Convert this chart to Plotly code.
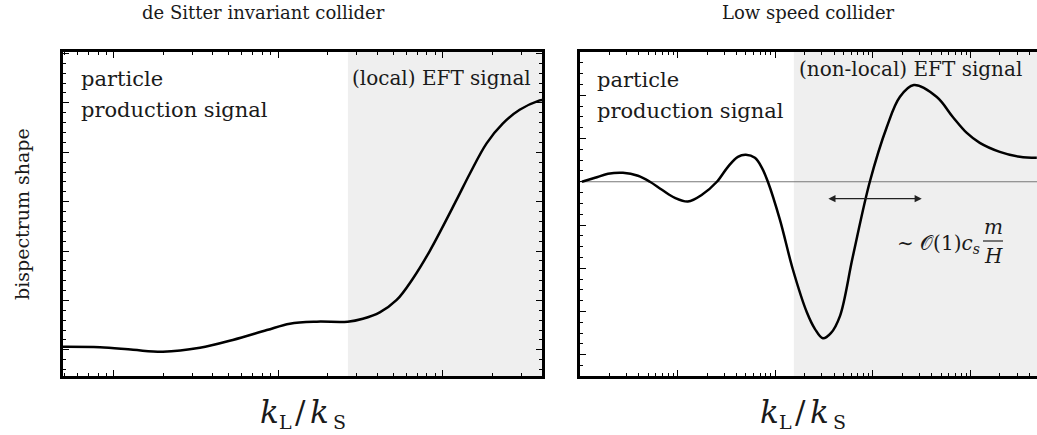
import plotly.graph_objects as go

# ---------------- data ----------------
panel_titles = ["de Sitter invariant collider", "Low speed collider"]
y_label = "bispectrum shape"
# x-axis label pieces: k_L / k_S
x_label_main = ["<i>k</i>", "/", "<i>k</i>"]
x_label_subs = ["L", "S"]

# left panel: k_L/k_S (log axis) and bispectrum shape
left_k = [0.00490, 0.00822, 0.01306, 0.01986, 0.03334, 0.05284, 0.08511, 0.1175,
          0.1714, 0.2642, 0.3266, 0.4140, 0.5248, 0.6577, 0.8337, 1.216, 1.459,
          1.849, 2.317, 2.938, 3.890, 4.02]
left_shape = [0.06, 0.05, 0.00, -0.04, 0.04, 0.20, 0.40, 0.53,
              0.57, 0.57, 0.63, 0.76, 1.01, 1.44, 2.00, 3.04, 3.56,
              4.18, 4.58, 4.86, 5.05, 5.06]
left_shade_from = 0.265

# right panel
right_k = [0.001047, 0.001426, 0.001936, 0.002754, 0.003926, 0.005200, 0.006902,
           0.009376, 0.012735, 0.017742, 0.025235, 0.032734, 0.041400,
           0.050003, 0.061802, 0.072946, 0.083946, 0.11143, 0.15136, 0.21038,
           0.25410, 0.30690, 0.37068, 0.45814, 0.62230, 0.92897, 1.3868, 1.8836,
           2.6242, 4.5082, 6.5766, 9.1411, 12.417, 19.907, 31.915, 47.643]
right_shape = [0.0, 0.092, 0.184, 0.207, 0.138, 0.0, -0.184,
               -0.37, -0.455, -0.30, 0.0, 0.346, 0.576,
               0.622, 0.553, 0.323, 0.0, -0.876, -2.028, -3.018,
               -3.40, -3.618, -3.50, -3.111, -1.728, 0.0, 1.267, 1.959,
               2.235, 1.959, 1.498, 1.129, 0.899, 0.691, 0.576, 0.553]
right_shade_from = 0.155

left_xrange = [-2.31, 0.604]
left_yrange = [-0.53, 6.03]
right_xrange = [-3.0, 1.68]
right_yrange = [-4.49, 3.0]

SERIF = "DejaVu Serif, Liberation Serif, serif"
TXT = "#1a1a1a"
SHADE = "#efefef"

fig = go.Figure()

# shaded EFT regions
fig.add_trace(go.Scatter(
    x=[left_shade_from, 10 ** left_xrange[1], 10 ** left_xrange[1], left_shade_from],
    y=[left_yrange[0], left_yrange[0], left_yrange[1], left_yrange[1]],
    fill="toself", fillcolor=SHADE, line=dict(width=0), mode="lines",
    hoverinfo="skip", showlegend=False, xaxis="x", yaxis="y"))
fig.add_trace(go.Scatter(
    x=[right_shade_from, 10 ** right_xrange[1], 10 ** right_xrange[1], right_shade_from],
    y=[right_yrange[0], right_yrange[0], right_yrange[1], right_yrange[1]],
    fill="toself", fillcolor=SHADE, line=dict(width=0), mode="lines",
    hoverinfo="skip", showlegend=False, xaxis="x2", yaxis="y2"))

# zero line right panel
fig.add_trace(go.Scatter(
    x=[10 ** right_xrange[0], 10 ** right_xrange[1]], y=[0, 0], mode="lines",
    line=dict(color="#777777", width=1.2), hoverinfo="skip", showlegend=False,
    xaxis="x2", yaxis="y2"))

# curves
fig.add_trace(go.Scatter(x=left_k, y=left_shape, mode="lines",
                         line=dict(color="black", width=2.5, shape="spline", smoothing=1.0),
                         showlegend=False, xaxis="x", yaxis="y"))
fig.add_trace(go.Scatter(x=right_k, y=right_shape, mode="lines",
                         line=dict(color="black", width=2.5, shape="spline", smoothing=1.0),
                         showlegend=False, xaxis="x2", yaxis="y2"))


def minor_log(lo, hi):
    vals = []
    for e in range(int(lo) - 1, int(hi) + 2):
        for m in range(2, 10):
            vals.append(m * 10.0 ** e)
    return vals


def xax(domain, rng, anchor):
    return dict(type="log", domain=domain, range=rng, anchor=anchor,
                showline=True, linecolor="black", linewidth=2.5, mirror="allticks",
                ticks="inside", ticklen=6, tickwidth=1.2, tickcolor="black",
                dtick=1, showticklabels=False, showgrid=False, zeroline=False,
                minor=dict(ticks="inside", ticklen=3, tickwidth=1, tickcolor="black",
                           tickvals=minor_log(rng[0], rng[1]), showgrid=False))


def yax(domain, rng, anchor, minor_dt, mirror):
    return dict(domain=domain, range=rng, anchor=anchor,
                showline=True, linecolor="black", linewidth=2.5, mirror=mirror,
                ticks="inside", ticklen=6, tickwidth=1.2, tickcolor="black",
                dtick=1, tick0=0, showticklabels=False, showgrid=False, zeroline=False,
                minor=dict(ticks="inside", ticklen=3, tickwidth=1, tickcolor="black",
                           dtick=minor_dt, tick0=0, showgrid=False))


W, H = 1037, 435
ydom = [1 - 376 / H, 1 - 52 / H]
fig.update_layout(
    width=W, height=H, margin=dict(l=0, r=0, t=0, b=0),
    paper_bgcolor="white", plot_bgcolor="white",
    xaxis=xax([63 / W, 542 / W], left_xrange, "y"),
    yaxis=yax(ydom, left_yrange, "x", 0.2, "allticks"),
    xaxis2=xax([580 / W, 1.0], right_xrange, "y2"),
    yaxis2=yax(ydom, right_yrange, "x2", 0.25, False),
    showlegend=False,
)


def px(x):
    return x / W


def py(y):
    return 1 - y / H


def txt(x, y, s, size=21, xanchor="left", yanchor="middle", **kw):
    fig.add_annotation(x=px(x), y=py(y), xref="paper", yref="paper", text=s,
                       showarrow=False, xanchor=xanchor, yanchor=yanchor,
                       font=dict(family=SERIF, size=size, color=TXT), **kw)


# titles
txt(263, 13, panel_titles[0], size=18, xanchor="center")
txt(808, 13, panel_titles[1], size=18, xanchor="center")

# y-axis label
txt(22, 214, y_label, size=19, xanchor="center", textangle=-90)

# x-axis labels built from pieces
for cx in (304, 804):
    for dx, s in zip((-35, -4, 15), x_label_main):
        txt(cx + dx, 412, s, size=31, xanchor="center")
    for dx, s in zip((-19, 35), x_label_subs):
        txt(cx + dx, 422, s, size=19, xanchor="center")

# region labels
txt(79, 79, "particle")
txt(79, 110, "production signal")
txt(350, 78, "(local) EFT signal", size=20)
txt(595, 80, "particle")
txt(595, 111, "production signal")
txt(797, 69, "(non-local) EFT signal", size=20)

# double arrow
fig.add_annotation(x=0.50, y=-0.39, ax=-0.472, ay=-0.39, xref="x2", yref="y2",
                   axref="x2", ayref="y2", text="", showarrow=True,
                   arrowhead=2, arrowside="end+start", arrowsize=1.1, arrowwidth=1.3,
                   arrowcolor="#222222")

# ~ O(1) c_s m/H
txt(982, 244, "∼ 𝒪(1)<i>c</i><sub><i>s</i></sub>", size=20, xanchor="right")
txt(993, 227, "<i>m</i>", size=20, xanchor="center")
txt(993, 256, "<i>H</i>", size=20, xanchor="center")
fig.add_shape(type="line", xref="paper", yref="paper",
              x0=px(983), x1=px(1003), y0=py(241), y1=py(241),
              line=dict(color="#222222", width=1.2))

# the page's default body margin would shift the figure; remove it
fig.write_html("out.html", config={"displayModeBar": False},
               post_script="document.body.style.margin='0';document.body.style.padding='0';")
